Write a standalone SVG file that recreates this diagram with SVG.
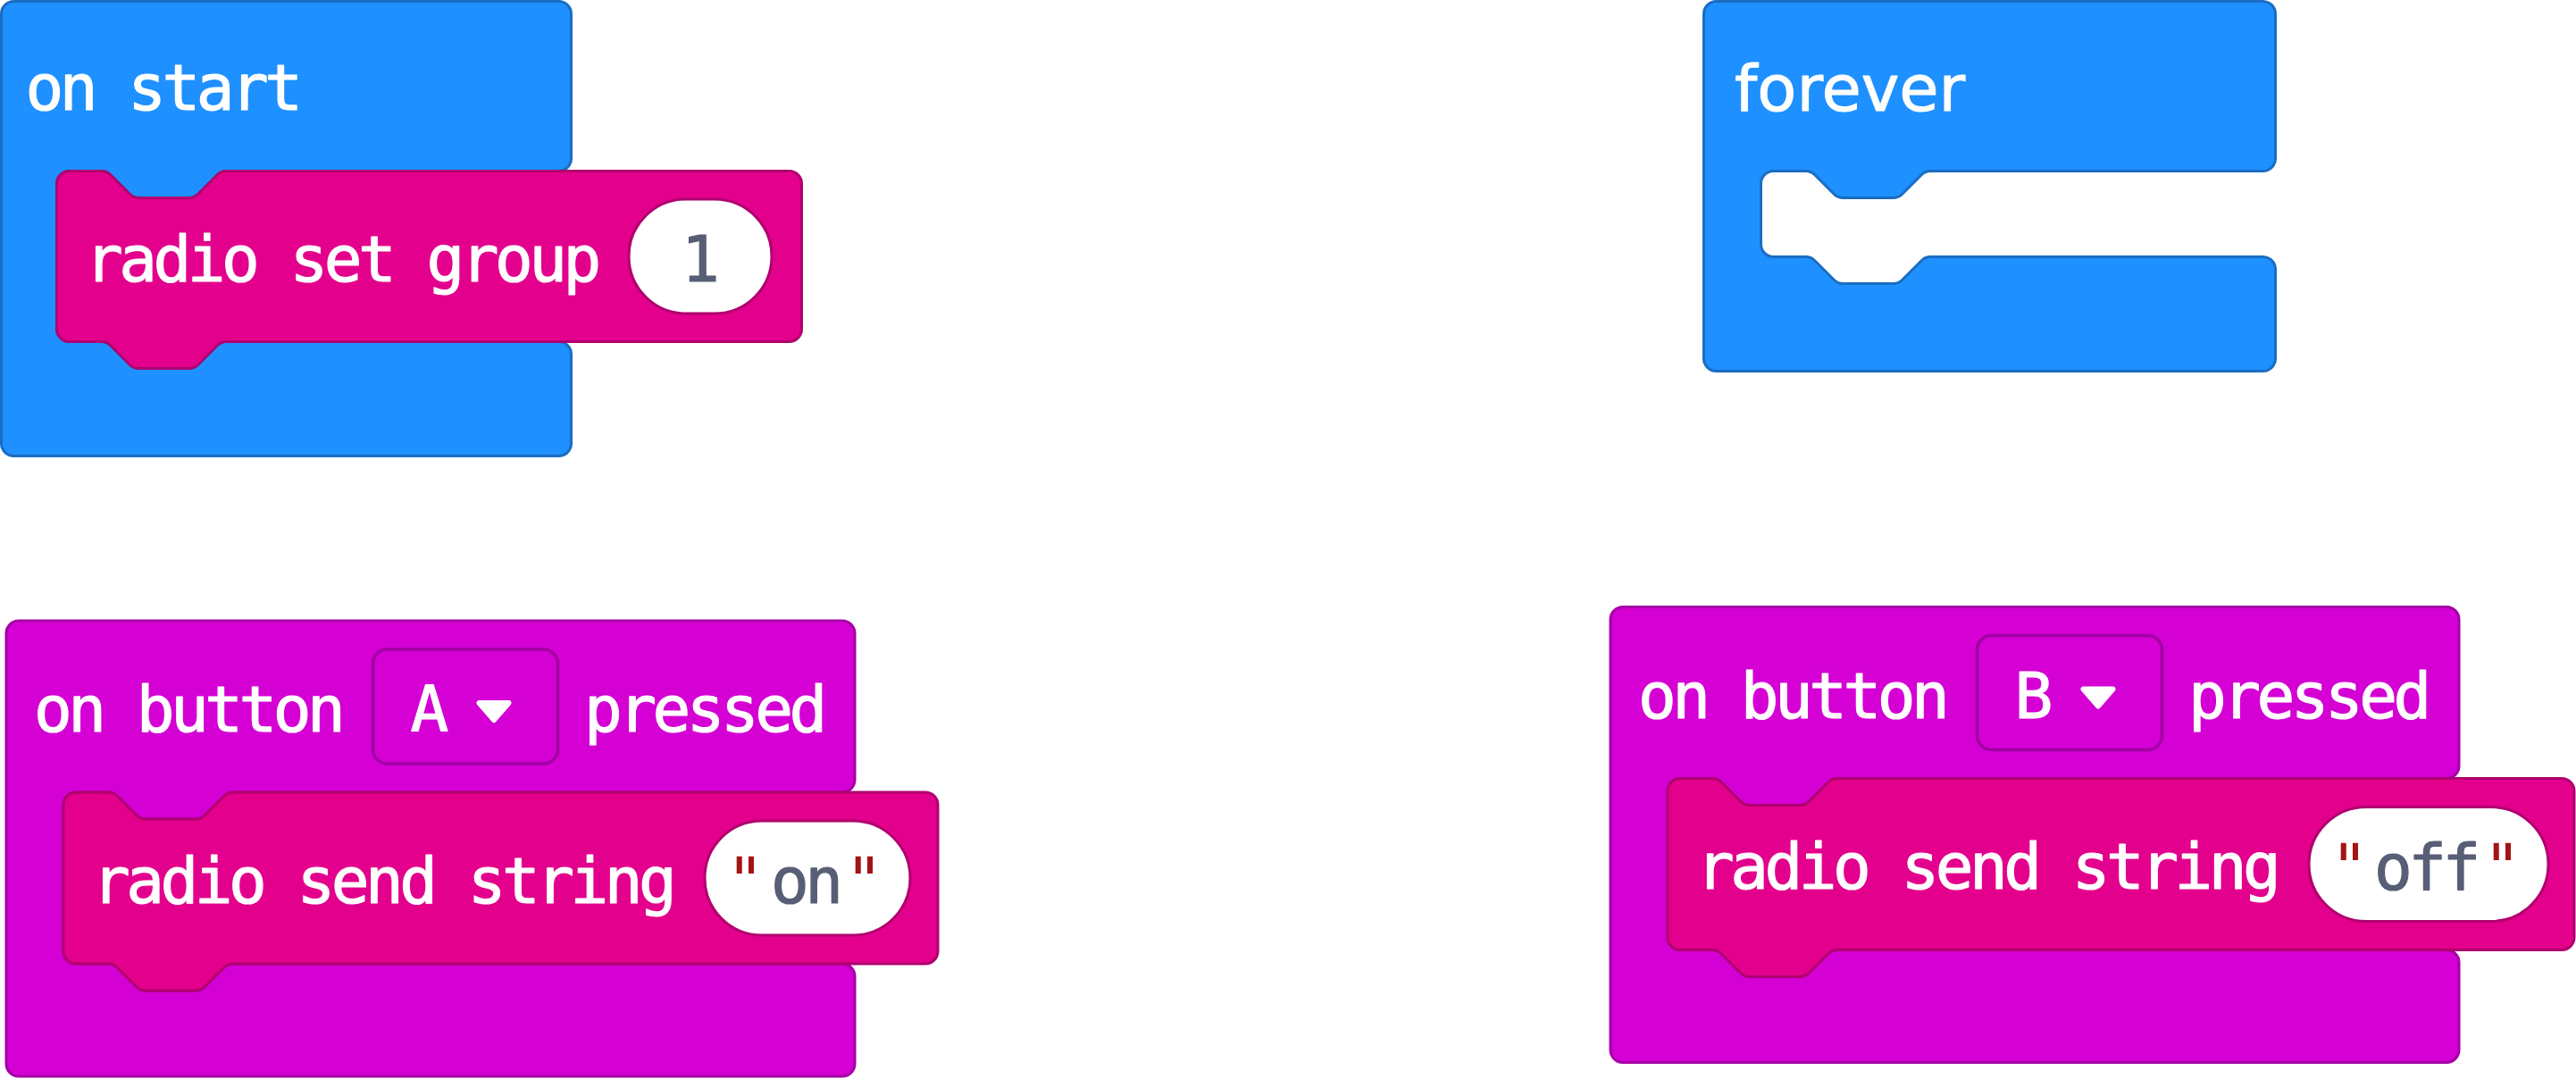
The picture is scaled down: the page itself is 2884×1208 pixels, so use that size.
<svg xmlns="http://www.w3.org/2000/svg" width="2884" height="1208" viewBox="0 0 2884 1208">
  <style>
    .ctl { fill: #1E90FF; stroke: #1A6DC2; stroke-width: 3; stroke-linejoin: round; }
    .evt { fill: #D400D4; stroke: #A500A5; stroke-width: 3; stroke-linejoin: round; }
    .rad { fill: #E3008C; stroke: #B0006E; stroke-width: 3; stroke-linejoin: round; }
    .pill { fill: #FFFFFF; stroke: #B0006E; stroke-width: 3; }
    .dd { fill: #D400D4; stroke: #A000A0; stroke-width: 3.5; }
    .arrow { fill: #FFFFFF; stroke: #FFFFFF; stroke-width: 6; stroke-linejoin: round; }
    .lbl { font-family: "DejaVu Sans Mono", "Liberation Mono", monospace; font-size: 71px; letter-spacing: -4.5px; fill: #FFFFFF; stroke: #FFFFFF; stroke-width: 1.2; stroke-linejoin: round; }
    .sans { font-family: "DejaVu Sans", "Liberation Sans", sans-serif; font-size: 72px; fill: #FFFFFF; stroke: #FFFFFF; stroke-width: 1; stroke-linejoin: round; }
    .val { font-family: "DejaVu Sans Mono", "Liberation Mono", monospace; font-size: 71px; letter-spacing: -4.5px; fill: #575E75; stroke: #575E75; stroke-width: 1.2; stroke-linejoin: round; }
    .quote { font-family: "DejaVu Sans Mono", "Liberation Mono", monospace; font-size: 71px; fill: #A31515; }
  </style>

  <!-- on start: C-shaped event block holding one statement -->
  <g id="on-start" transform="translate(1.5,1.5)">
    <path class="ctl" d="M14,0 H624 A14,14 0 0 1 638,14 V176 A14,14 0 0 1 624,190 H252 Q246,190 242,194 L220,216 Q216,220 210,220 H154 Q148,220 144,216 L122,194 Q118,190 112,190 H76 A14,14 0 0 0 62,204 V367 A14,14 0 0 0 76,381 H112 Q118,381 122,385 L144,407 Q148,411 154,411 H210 Q216,411 220,407 L242,385 Q246,381 252,381 H624 A14,14 0 0 1 638,395 V495 A14,14 0 0 1 624,509 H14 A14,14 0 0 1 0,495 V14 A14,14 0 0 1 14,0 Z"/>
    <text class="lbl" x="27" y="121.5">on start</text>
  </g>

  <!-- radio set group 1 -->
  <g id="radio-set-group" transform="translate(63.5,191.5)">
    <path class="rad" d="M14,0 H50 Q56,0 60,4 L82,26 Q86,30 92,30 H148 Q154,30 158,26 L180,4 Q184,0 190,0 H820 A14,14 0 0 1 834,14 V177 A14,14 0 0 1 820,191 H190 Q184,191 180,195 L158,217 Q154,221 148,221 H92 Q86,221 82,217 L60,195 Q56,191 50,191 H14 A14,14 0 0 1 0,177 V14 A14,14 0 0 1 14,0 Z"/>
    <text class="lbl" x="31.5" y="123.5">radio set group</text>
    <rect class="pill" x="640.5" y="31.5" width="160" height="128" rx="64" ry="64"/>
    <text class="val" x="699.5" y="123.5">1</text>
  </g>

  <!-- forever: empty C-shaped loop -->
  <g id="forever" transform="translate(1907.5,1.5)">
    <path class="ctl" d="M14,0 H626 A14,14 0 0 1 640,14 V176 A14,14 0 0 1 626,190 H254 Q248,190 244,194 L222,216 Q218,220 212,220 H156 Q150,220 146,216 L124,194 Q120,190 114,190 H78 A14,14 0 0 0 64,204 V272 A14,14 0 0 0 78,286 H114 Q120,286 124,290 L146,312 Q150,316 156,316 H212 Q218,316 222,312 L244,290 Q248,286 254,286 H626 A14,14 0 0 1 640,300 V400 A14,14 0 0 1 626,414 H14 A14,14 0 0 1 0,400 V14 A14,14 0 0 1 14,0 Z"/>
    <text class="sans" x="34.5" y="122">forever</text>
  </g>

  <!-- on button A pressed -->
  <g id="on-button-a" transform="translate(7,695)">
    <path class="evt" d="M14,0 H936 A14,14 0 0 1 950,14 V178 A14,14 0 0 1 936,192 H254 Q248,192 244,196 L222,218 Q218,222 212,222 H156 Q150,222 146,218 L124,196 Q120,192 114,192 H78 A14,14 0 0 0 64,206 V370 A14,14 0 0 0 78,384 H114 Q120,384 124,388 L146,410 Q150,414 156,414 H212 Q218,414 222,410 L244,388 Q248,384 254,384 H936 A14,14 0 0 1 950,398 V496 A14,14 0 0 1 936,510 H14 A14,14 0 0 1 0,496 V14 A14,14 0 0 1 14,0 Z"/>
    <text class="lbl" x="31" y="124">on button</text>
    <rect class="dd" x="410.5" y="32" width="207" height="128" rx="16" ry="16"/>
    <text class="lbl" x="452.5" y="124">A</text>
    <polygon class="arrow" points="529.5,92 562.5,92 546,111"/>
    <text class="lbl" x="647" y="124">pressed</text>
  </g>

  <!-- radio send string "on" -->
  <g id="radio-send-on" transform="translate(71,887)">
    <path class="rad" d="M14,0 H50 Q56,0 60,4 L82,26 Q86,30 92,30 H148 Q154,30 158,26 L180,4 Q184,0 190,0 H965 A14,14 0 0 1 979,14 V178 A14,14 0 0 1 965,192 H190 Q184,192 180,196 L158,218 Q154,222 148,222 H92 Q86,222 82,218 L60,196 Q56,192 50,192 H14 A14,14 0 0 1 0,178 V14 A14,14 0 0 1 14,0 Z"/>
    <text class="lbl" x="32" y="123.5">radio send string</text>
    <rect class="pill" x="718" y="32" width="230" height="128" rx="64" ry="64"/>
    <text class="quote" x="742" y="124">"</text>
    <text class="val" x="792" y="124">on</text>
    <text class="quote" x="875" y="124">"</text>
  </g>

  <!-- on button B pressed -->
  <g id="on-button-b" transform="translate(1803,679.5)">
    <path class="evt" d="M14,0 H936 A14,14 0 0 1 950,14 V178 A14,14 0 0 1 936,192 H254 Q248,192 244,196 L222,218 Q218,222 212,222 H156 Q150,222 146,218 L124,196 Q120,192 114,192 H78 A14,14 0 0 0 64,206 V370 A14,14 0 0 0 78,384 H114 Q120,384 124,388 L146,410 Q150,414 156,414 H212 Q218,414 222,410 L244,388 Q248,384 254,384 H936 A14,14 0 0 1 950,398 V496 A14,14 0 0 1 936,510 H14 A14,14 0 0 1 0,496 V14 A14,14 0 0 1 14,0 Z"/>
    <text class="lbl" x="31" y="124">on button</text>
    <rect class="dd" x="410.5" y="32" width="207" height="128" rx="16" ry="16"/>
    <text class="lbl" x="452.5" y="124">B</text>
    <polygon class="arrow" points="529.5,92 562.5,92 546,111"/>
    <text class="lbl" x="647" y="124">pressed</text>
  </g>

  <!-- radio send string "off" -->
  <g id="radio-send-off" transform="translate(1867,871.5)">
    <path class="rad" d="M14,0 H50 Q56,0 60,4 L82,26 Q86,30 92,30 H148 Q154,30 158,26 L180,4 Q184,0 190,0 H1001 A14,14 0 0 1 1015,14 V178 A14,14 0 0 1 1001,192 H190 Q184,192 180,196 L158,218 Q154,222 148,222 H92 Q86,222 82,218 L60,196 Q56,192 50,192 H14 A14,14 0 0 1 0,178 V14 A14,14 0 0 1 14,0 Z"/>
    <text class="lbl" x="32" y="123.5">radio send string</text>
    <rect class="pill" x="718" y="32" width="268" height="128" rx="64" ry="64"/>
    <text class="quote" x="742" y="124">"</text>
    <text class="val" x="791" y="124">off</text>
    <text class="quote" x="913" y="124">"</text>
  </g>

  <!-- no connectors between these blocks -->
  <g id="connectors"/>
</svg>
